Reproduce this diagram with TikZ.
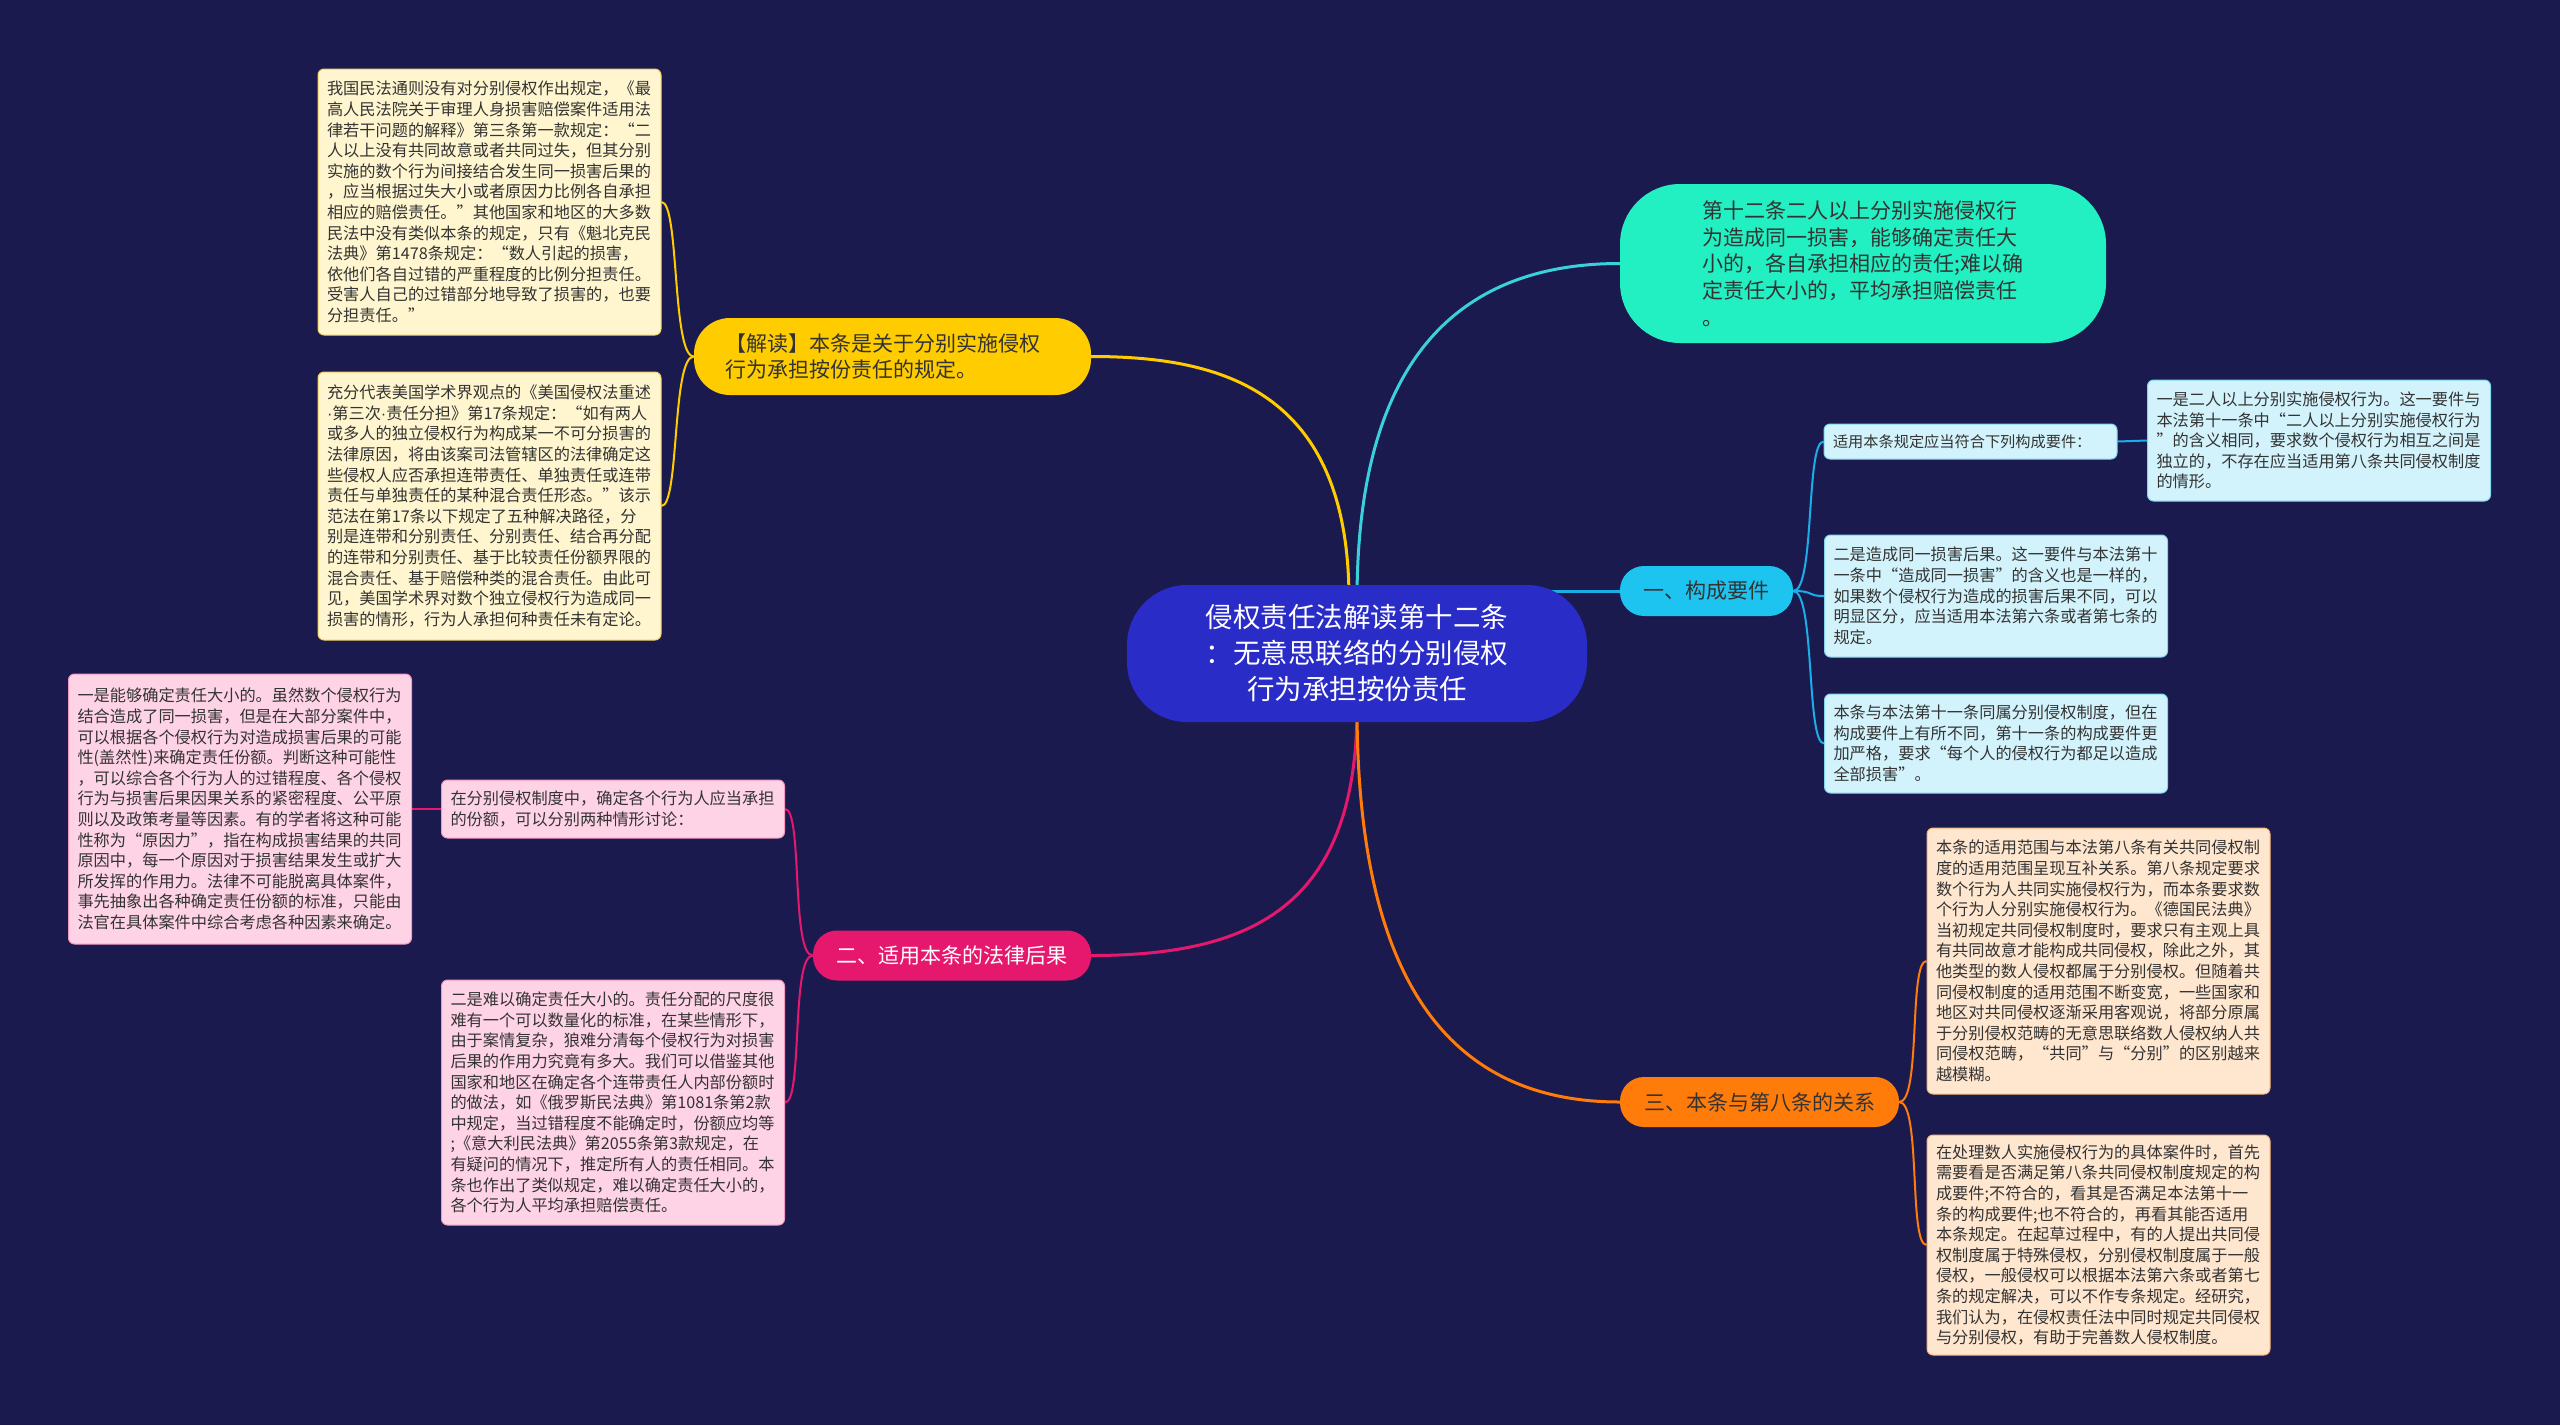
\documentclass[tikz,border=0pt]{standalone}
\usepackage{fontspec}
\setmainfont{Noto Sans CJK SC}
\newfontfamily\latinfont{Liberation Sans}
\usetikzlibrary{calc}
\pgfdeclarelayer{back}
\pgfdeclarelayer{lines}
\pgfsetlayers{back,lines,main}
\definecolor{bgc}{HTML}{1B1A4F}
\definecolor{ctrc}{HTML}{2A2CC8}
\definecolor{grnc}{HTML}{22EFC2}
\definecolor{yelc}{HTML}{FFCC00}
\definecolor{cyac}{HTML}{1EC4F0}
\definecolor{pnkc}{HTML}{E6186E}
\definecolor{orgc}{HTML}{FF7B0A}
\definecolor{lnG}{HTML}{3AD1DA}
\definecolor{lnC}{HTML}{1BAEE6}
\definecolor{yleaf}{HTML}{FFF6CF}
\definecolor{yleafb}{HTML}{F2CF60}
\definecolor{pleaf}{HTML}{FFD3E6}
\definecolor{pleafb}{HTML}{F09AC0}
\definecolor{cleaf}{HTML}{D3F3FC}
\definecolor{cleafb}{HTML}{80D6F0}
\definecolor{oleaf}{HTML}{FFE6CF}
\definecolor{oleafb}{HTML}{F7B676}
\definecolor{txtc}{HTML}{333333}
\newcommand\leaffont{\fontsize{16.2}{20.6}\selectfont}
\newcommand\brfont{\fontsize{21}{26.7}\selectfont}
\newcommand\ctrfont{\fontsize{27.5}{36}\selectfont}
\newcommand\mdot{{\latinfont ·}}
\tikzset{
  leafbox/.style={draw, line width=1pt, rounded corners=6pt, inner xsep=9pt, inner ysep=0pt,
    align=left, text width=325pt, font=\leaffont, text=txtc, anchor=center},
  ybox/.style={leafbox, fill=yleaf, draw=yleafb},
  pbox/.style={leafbox, fill=pleaf, draw=pleafb},
  cbox/.style={leafbox, fill=cleaf, draw=cleafb},
  obox/.style={leafbox, fill=oleaf, draw=oleafb},
  brbox/.style={inner sep=0pt, font=\brfont, rounded corners=24pt, minimum height=50pt, anchor=center},
  mainln/.style={line width=3pt},
  subln/.style={line width=2pt},
}
\begin{document}
\begin{tikzpicture}[x=1pt,y=-1pt]
\begin{pgfonlayer}{back}
\fill[bgc] (0,0) rectangle (2560,1425);
\end{pgfonlayer}
\useasboundingbox (0,0) rectangle (2560,1425);

% center
\node[fill=ctrc, text=white, font=\ctrfont, align=center, rounded corners=60pt,
  minimum width=460pt, minimum height=137pt, inner sep=0pt] (ctr) at (1357,653.5)
  {侵权责任法解读第十二条\\：无意思联络的分别侵权\\行为承担按份责任};

% top right green
\node[fill=grnc, text=txtc, font=\brfont, align=left, rounded corners=60pt,
  minimum width=486pt, minimum height=159pt, inner sep=0pt] (grn) at (1863,263.5)
  {第十二条二人以上分别实施侵权行\\为造成同一损害，能够确定责任大\\小的，各自承担相应的责任;难以确\\定责任大小的，平均承担赔偿责任\\。};

% yellow branch
\node[fill=yelc, text=txtc, font=\brfont, align=left, rounded corners=36pt,
  text width=335pt, inner xsep=31pt, minimum height=77pt, inner ysep=0pt] (yel) at (892.5,356.5)
  {【解读】本条是关于分别实施侵权\\行为承担按份责任的规定。};

% branches
\node[brbox, fill=cyac, text=txtc, minimum width=173pt] (b1) at (1706.5,591) {一、构成要件};
\node[brbox, fill=pnkc, text=white, minimum width=278pt] (b2) at (952,955.5) {二、适用本条的法律后果};
\node[brbox, fill=orgc, text=txtc, minimum width=279pt] (b3) at (1759.5,1102) {三、本条与第八条的关系};

% yellow leaves
\node[ybox, minimum height=266pt] (y1) at (489.5,202)
{我国民法通则没有对分别侵权作出规定，《最\\高人民法院关于审理人身损害赔偿案件适用法\\律若干问题的解释》第三条第一款规定：“二\\人以上没有共同故意或者共同过失，但其分别\\实施的数个行为间接结合发生同一损害后果的\\，应当根据过失大小或者原因力比例各自承担\\相应的赔偿责任。”其他国家和地区的大多数\\民法中没有类似本条的规定，只有《魁北克民\\法典》第1478条规定：“数人引起的损害，\\依他们各自过错的严重程度的比例分担责任。\\受害人自己的过错部分地导致了损害的，也要\\分担责任。”};
\node[ybox, minimum height=268pt] (y2) at (489.5,506)
{充分代表美国学术界观点的《美国侵权法重述\\\mdot 第三次\mdot 责任分担》第17条规定：“如有两人\\或多人的独立侵权行为构成某一不可分损害的\\法律原因，将由该案司法管辖区的法律确定这\\些侵权人应否承担连带责任、单独责任或连带\\责任与单独责任的某种混合责任形态。”该示\\范法在第17条以下规定了五种解决路径，分\\别是连带和分别责任、分别责任、结合再分配\\的连带和分别责任、基于比较责任份额界限的\\混合责任、基于赔偿种类的混合责任。由此可\\见，美国学术界对数个独立侵权行为造成同一\\损害的情形，行为人承担何种责任未有定论。};

% pink leaves
\node[pbox, minimum height=58pt] (p1) at (613,809)
{在分别侵权制度中，确定各个行为人应当承担\\的份额，可以分别两种情形讨论：};
\node[pbox, minimum height=270pt] (pl) at (240,809)
{一是能够确定责任大小的。虽然数个侵权行为\\结合造成了同一损害，但是在大部分案件中，\\可以根据各个侵权行为对造成损害后果的可能\\性(盖然性)来确定责任份额。判断这种可能性\\，可以综合各个行为人的过错程度、各个侵权\\行为与损害后果因果关系的紧密程度、公平原\\则以及政策考量等因素。有的学者将这种可能\\性称为“原因力”，指在构成损害结果的共同\\原因中，每一个原因对于损害结果发生或扩大\\所发挥的作用力。法律不可能脱离具体案件，\\事先抽象出各种确定责任份额的标准，只能由\\法官在具体案件中综合考虑各种因素来确定。};
\node[pbox, minimum height=245pt] (p2) at (613,1102.5)
{二是难以确定责任大小的。责任分配的尺度很\\难有一个可以数量化的标准，在某些情形下，\\由于案情复杂，狼难分清每个侵权行为对损害\\后果的作用力究竟有多大。我们可以借鉴其他\\国家和地区在确定各个连带责任人内部份额时\\的做法，如《俄罗斯民法典》第1081条第2款\\中规定，当过错程度不能确定时，份额应均等\\;《意大利民法典》第2055条第3款规定，在\\有疑问的情况下，推定所有人的责任相同。本\\条也作出了类似规定，难以确定责任大小的，\\各个行为人平均承担赔偿责任。};

% cyan leaves
\node[cbox, text width=275pt, font=\fontsize{15.2}{18}\selectfont, minimum height=35pt] (c0) at (1970.5,441.5)
{适用本条规定应当符合下列构成要件：};
\node[cbox, minimum height=121pt] (c1) at (2319,440.5)
{一是二人以上分别实施侵权行为。这一要件与\\本法第十一条中“二人以上分别实施侵权行为\\”的含义相同，要求数个侵权行为相互之间是\\独立的，不存在应当适用第八条共同侵权制度\\的情形。};
\node[cbox, minimum height=122pt] (c2) at (1996,596)
{二是造成同一损害后果。这一要件与本法第十\\一条中“造成同一损害”的含义也是一样的，\\如果数个侵权行为造成的损害后果不同，可以\\明显区分，应当适用本法第六条或者第七条的\\规定。};
\node[cbox, minimum height=99pt] (c3) at (1996,743.5)
{本条与本法第十一条同属分别侵权制度，但在\\构成要件上有所不同，第十一条的构成要件更\\加严格，要求“每个人的侵权行为都足以造成\\全部损害”。};

% orange leaves
\node[obox, minimum height=266pt] (o1) at (2098.5,961)
{本条的适用范围与本法第八条有关共同侵权制\\度的适用范围呈现互补关系。第八条规定要求\\数个行为人共同实施侵权行为，而本条要求数\\个行为人分别实施侵权行为。《德国民法典》\\当初规定共同侵权制度时，要求只有主观上具\\有共同故意才能构成共同侵权，除此之外，其\\他类型的数人侵权都属于分别侵权。但随着共\\同侵权制度的适用范围不断变宽，一些国家和\\地区对共同侵权逐渐采用客观说，将部分原属\\于分别侵权范畴的无意思联络数人侵权纳人共\\同侵权范畴，“共同”与“分别”的区别越来\\越模糊。};
\node[obox, minimum height=220pt] (o2) at (2098.5,1245)
{在处理数人实施侵权行为的具体案件时，首先\\需要看是否满足第八条共同侵权制度规定的构\\成要件;不符合的，看其是否满足本法第十一\\条的构成要件;也不符合的，再看其能否适用\\本条规定。在起草过程中，有的人提出共同侵\\权制度属于特殊侵权，分别侵权制度属于一般\\侵权，一般侵权可以根据本法第六条或者第七\\条的规定解决，可以不作专条规定。经研究，\\我们认为，在侵权责任法中同时规定共同侵权\\与分别侵权，有助于完善数人侵权制度。};

% connectors
\begin{pgfonlayer}{lines}
\draw[mainln, yelc] ($(ctr.north)+(-8,15)$) .. controls +(0,-210) and +(130,0) .. (yel.east);
\draw[mainln, lnG] ($(ctr.north)+(0,15)$) .. controls +(0,-230) and +(-170,0) .. (grn.west);
\draw[mainln, lnC] (ctr.center |- b1.west) -- (b1.west);
\draw[mainln, pnkc] ($(ctr.south)+(0,-15)$) .. controls +(0,200) and +(160,0) .. (b2.east);
\draw[mainln, orgc] ($(ctr.south)+(0,-15)$) .. controls +(0,260) and +(-180,0) .. (b3.west);

\draw[subln, yelc] (yel.west) .. controls +(-22,0) and +(18,0) .. (y1.east);
\draw[subln, yelc] (yel.west) .. controls +(-22,0) and +(18,0) .. (y2.east);

\draw[subln, pnkc] (b2.west) .. controls +(-22,0) and +(18,0) .. (p1.east);
\draw[subln, pnkc] (b2.west) .. controls +(-22,0) and +(18,0) .. (p2.east);
\draw[subln, pnkc] (p1.west) -- (pl.east);

\draw[subln, lnC] (b1.east) .. controls +(22,0) and +(-18,0) .. (c0.west);
\draw[subln, lnC] (b1.east) .. controls +(22,0) and +(-18,0) .. (c2.west);
\draw[subln, lnC] (b1.east) .. controls +(22,0) and +(-18,0) .. (c3.west);
\draw[subln, lnC] (c0.east) -- (c1.west);

\draw[subln, orgc] (b3.east) .. controls +(22,0) and +(-18,0) .. (o1.west);
\draw[subln, orgc] (b3.east) .. controls +(22,0) and +(-18,0) .. (o2.west);
\end{pgfonlayer}
\end{tikzpicture}
\end{document}
